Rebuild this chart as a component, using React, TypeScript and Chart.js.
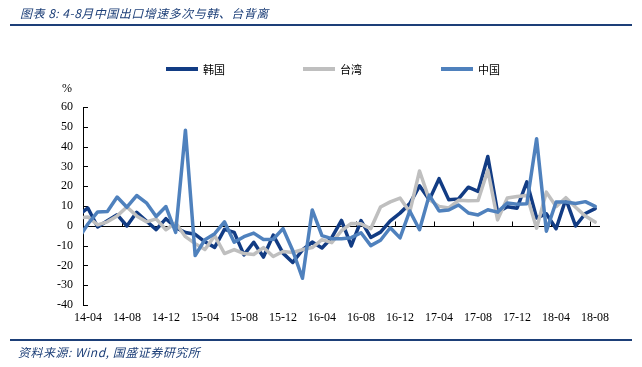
import React, { useEffect, useRef } from 'react';
import { Chart, registerables } from 'chart.js';

Chart.register(...registerables);

// Monthly labels (first month is only partly visible, clipped by the axis)
const months = [
  '14-03', '14-04', '14-05', '14-06', '14-07', '14-08', '14-09', '14-10', '14-11', '14-12',
  '15-01', '15-02', '15-03', '15-04', '15-05', '15-06', '15-07', '15-08', '15-09', '15-10', '15-11', '15-12',
  '16-01', '16-02', '16-03', '16-04', '16-05', '16-06', '16-07', '16-08', '16-09', '16-10', '16-11', '16-12',
  '17-01', '17-02', '17-03', '17-04', '17-05', '17-06', '17-07', '17-08', '17-09', '17-10', '17-11', '17-12',
  '18-01', '18-02', '18-03', '18-04', '18-05', '18-06', '18-07', '18-08',
];

const korea = [
  5.2, 9.0, -0.6, 2.5, 5.6, -0.1, 6.8, 2.4, -1.9, 3.6,
  -0.9, -3.4, -4.3, -8.1, -10.9, -1.8, -3.3, -14.7, -8.3, -15.8, -4.7, -13.8,
  -18.5, -12.2, -8.2, -11.2, -6.0, 2.7, -10.2, 2.6, -5.9, -3.2, 2.5, 6.4,
  11.2, 20.2, 13.1, 23.8, 13.1, 13.6, 19.5, 17.4, 35.0, 6.8, 9.6, 8.9,
  22.2, 3.9, 6.1, -1.5, 13.5, -0.1, 6.2, 8.7,
];

const taiwan = [
  4.0, 4.5, 0.5, 2.0, 5.0, 9.5, 5.0, 2.0, 3.5, -2.0,
  1.5, -5.5, -9.0, -12.0, -5.0, -14.0, -12.0, -14.0, -14.5, -11.0, -15.5, -13.0,
  -13.5, -12.0, -11.0, -7.0, -8.5, -2.5, 1.2, 1.0, -1.5, 9.5, 12.1, 14.0,
  7.0, 27.7, 13.2, 9.8, 9.0, 12.9, 12.6, 12.8, 28.1, 3.0, 14.0, 14.8,
  15.3, -1.2, 17.0, 9.7, 14.2, 9.4, 4.9, 1.9,
];

const china = [
  -6.6, 0.9, 7.0, 7.2, 14.5, 9.4, 15.3, 11.6, 4.7, 9.7,
  -3.3, 48.3, -15.0, -7.0, -4.0, 2.0, -8.3, -5.5, -3.7, -6.9, -6.8, -1.4,
  -12.5, -26.5, 8.0, -5.0, -6.5, -6.5, -6.0, -3.5, -10.0, -7.3, -1.0, -6.1,
  7.5, -2.0, 15.5, 7.5, 8.0, 10.5, 6.5, 5.5, 8.1, 6.9, 11.5, 10.9,
  11.1, 44.0, -2.7, 12.0, 12.0, 11.3, 12.2, 9.8,
];

const seriesNames = ['韩国', '台湾', '中国'];
const seriesColors = ['#123c84', '#bfbfbf', '#4f81bd'];
const firstVisibleMonth = '14-04';
const labelEvery = 4;
const yMin = -40;
const yMax = 60;
const yStep = 10;

const titleText = '图表 8: 4-8月中国出口增速多次与韩、台背离';
const sourceText = '资料来源: Wind, 国盛证券研究所';
const unitText = '%';

const navy = '#1d3f78';

const axisMarks = {
  id: 'axisMarks',
  beforeDatasetsDraw(chart: any) {
    const { ctx, chartArea, scales } = chart;
    const x = scales.x;
    const y = scales.y;
    ctx.save();
    ctx.strokeStyle = '#000';
    ctx.lineWidth = 1;
    ctx.beginPath();
    const y0 = Math.round(y.getPixelForValue(0)) + 0.5;
    ctx.moveTo(chartArea.left, y0);
    ctx.lineTo(chartArea.right, y0);
    for (let i = x.min + labelEvery; i <= x.max; i += labelEvery) {
      const px = Math.round((x.getPixelForValue(i - 1) + x.getPixelForValue(i)) / 2) + 0.5;
      ctx.moveTo(px, y0);
      ctx.lineTo(px, y0 - 5);
    }
    y.ticks.forEach((t: any) => {
      const py = Math.round(y.getPixelForValue(t.value)) + 0.5;
      ctx.moveTo(chartArea.left, py);
      ctx.lineTo(chartArea.left + 5, py);
    });
    ctx.stroke();
    ctx.restore();
  },
};

export default function App() {
  const canvasRef = useRef<HTMLCanvasElement | null>(null);

  useEffect(() => {
    document.body.style.margin = '0';
    const canvas = canvasRef.current;
    if (!canvas) return;
    const values = [korea, taiwan, china];
    const chart = new Chart(canvas, {
      type: 'line',
      data: {
        labels: months,
        datasets: seriesNames.map((name, k) => ({
          label: name,
          data: values[k],
          borderColor: seriesColors[k],
          backgroundColor: seriesColors[k],
          borderWidth: 3.5,
          pointRadius: 0,
          pointHoverRadius: 0,
          tension: 0,
          fill: false,
          clip: 0,
          borderJoinStyle: 'round' as const,
          borderCapStyle: 'round' as const,
          order: 3 - k,
        })),
      },
      options: {
        animation: false,
        responsive: false,
        devicePixelRatio: 1,
        events: [],
        layout: { padding: { top: 107, right: 42, bottom: 37, left: 0 } },
        plugins: {
          legend: { display: false },
          tooltip: { enabled: false },
          title: { display: false },
        },
        scales: {
          x: {
            type: 'category',
            min: firstVisibleMonth,
            offset: true,
            grid: { display: false, drawTicks: false },
            border: { display: false },
            afterFit: (s: any) => { s.height = 25; },
            ticks: {
              autoSkip: false,
              maxRotation: 0,
              minRotation: 0,
              padding: 6,
              color: '#000',
              font: { family: "'Liberation Serif', 'Times New Roman', serif", size: 12 },
              callback: function (this: any, value: any) {
                const idx = Number(value);
                return (idx - 1) % labelEvery === 0 ? this.getLabelForValue(idx) : '';
              },
            },
          },
          y: {
            type: 'linear',
            min: yMin,
            max: yMax,
            grid: { display: false, drawTicks: false },
            border: { display: true, color: '#000', width: 1 },
            afterFit: (s: any) => { s.width = 83; },
            ticks: {
              stepSize: yStep,
              padding: 10,
              color: '#000',
              font: { family: "'Liberation Serif', 'Times New Roman', serif", size: 12 },
            },
          },
        },
      },
      plugins: [axisMarks],
    });
    return () => chart.destroy();
  }, []);

  const legendLefts = [166, 303, 441];

  return (
    <div style={{ position: 'fixed', left: 0, top: 0, width: 642, height: 367, background: '#fff', overflow: 'hidden' }}>
      <canvas ref={canvasRef} width={642} height={367} style={{ position: 'absolute', left: 0, top: 0, width: 642, height: 367 }} />
      <div style={{ position: 'absolute', left: 20, top: 5, fontFamily: "'Noto Sans CJK SC', sans-serif", fontSize: 12, lineHeight: '16px', fontStyle: 'italic', color: navy, letterSpacing: '0.5px', whiteSpace: 'nowrap' }}>
        {titleText}
      </div>
      <div style={{ position: 'absolute', left: 10, top: 24, width: 622, height: 2, background: navy }} />
      {seriesNames.map((name, k) => (
        <div key={name} style={{ position: 'absolute', left: legendLefts[k], top: 61, height: 16, display: 'flex', alignItems: 'center', whiteSpace: 'nowrap' }}>
          <div style={{ width: 32, height: 4, background: seriesColors[k], marginRight: 5 }} />
          <span style={{ fontFamily: "'Noto Sans CJK SC', sans-serif", fontSize: 11, lineHeight: '16px', color: '#000' }}>{name}</span>
        </div>
      ))}
      <div style={{ position: 'absolute', left: 62, top: 80, fontFamily: "'Liberation Serif', serif", fontSize: 12, lineHeight: '16px', color: '#000' }}>
        {unitText}
      </div>
      <div style={{ position: 'absolute', left: 10, top: 339, width: 622, height: 2, background: navy }} />
      <div style={{ position: 'absolute', left: 18, top: 344, fontFamily: "'Noto Sans CJK SC', sans-serif", fontSize: 12, lineHeight: '16px', fontStyle: 'italic', color: navy, letterSpacing: '0.5px', whiteSpace: 'nowrap' }}>
        {sourceText}
      </div>
    </div>
  );
}
